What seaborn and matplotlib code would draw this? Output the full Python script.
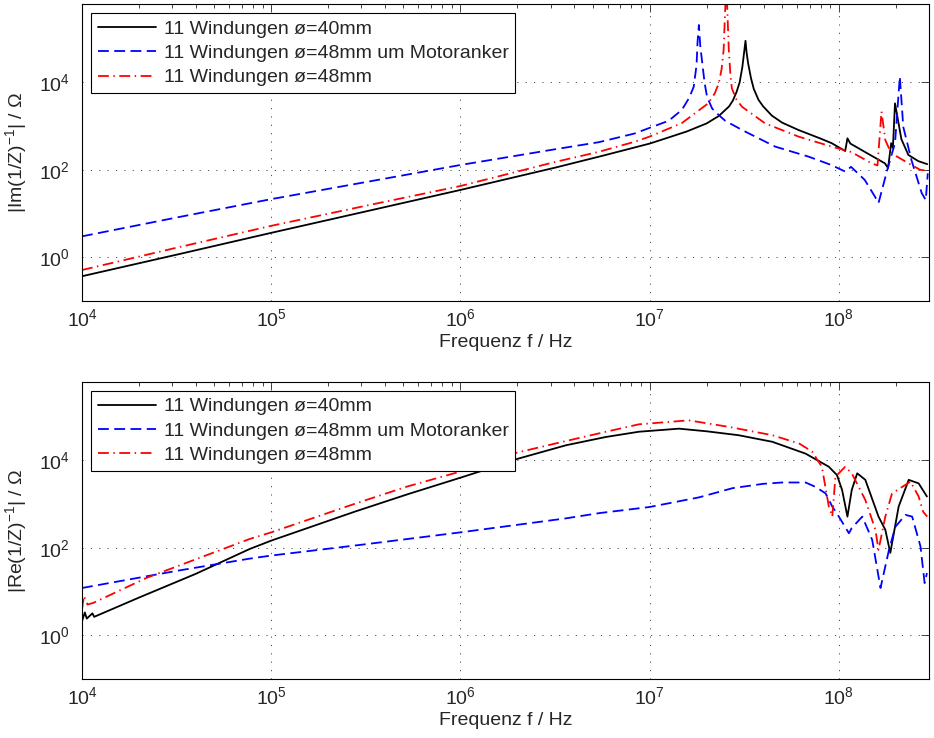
import matplotlib
matplotlib.use("Agg")
import matplotlib.pyplot as plt
import seaborn as sns
from matplotlib.ticker import NullLocator, NullFormatter

sns.set_style("white")
plt.rcParams['font.family'] = ['Liberation Sans', 'DejaVu Sans']
plt.rcParams['mathtext.fontset'] = 'custom'
plt.rcParams['mathtext.rm'] = 'Liberation Sans'
plt.rcParams['mathtext.it'] = 'Liberation Sans:italic'
plt.rcParams['font.size'] = 14

labels = ['11 Windungen ø=40mm',
          '11 Windungen ø=48mm um Motoranker',
          '11 Windungen ø=48mm']

# |Im(1/Z)^-1| -- 40 mm
f_im_40 = [1e4, 3.16e4, 1e5, 3.16e5, 1e6, 3.16e6, 5.62e6, 8.32e6, 1e7, 1.26e7, 1.58e7, 2.0e7,
           2.32e7, 2.63e7, 2.75e7, 2.88e7, 2.99e7, 3.09e7, 3.16e7, 3.21e7, 3.25e7, 3.31e7,
           3.43e7, 3.55e7, 3.76e7, 3.98e7, 4.42e7, 5.01e7, 6.12e7, 7.94e7, 9.16e7, 1.08e8,
           1.11e8, 1.15e8, 1.41e8, 1.75e8, 1.82e8, 1.89e8, 1.93e8, 1.98e8, 2.14e8, 2.33e8,
           2.63e8, 2.93e8]
im_40 = [0.37, 1.15, 3.63, 11.2, 34.7, 112, 209, 324, 398, 550, 759, 1150,
         1700, 2820, 3800, 6030, 1e4, 2.24e4, 5.01e4, 8.9e4, 5.01e4, 2.82e4,
         1.26e4, 7080, 3980, 2820, 1740, 1200, 813, 525, 407, 269,
         525, 398, 240, 141, 110, 407, 316, 3310, 501, 219,
         158, 135]

# |Im(1/Z)^-1| -- 48 mm um Motoranker
f_im_48m = [1e4, 3.16e4, 1e5, 3.16e5, 1e6, 3.16e6, 5.37e6, 8.32e6, 1e7, 1.26e7, 1.48e7,
            1.62e7, 1.71e7, 1.77e7, 1.79e7, 1.82e7, 1.85e7, 1.89e7, 1.95e7, 2.01e7,
            2.14e7, 2.32e7, 2.51e7, 3.08e7, 4.61e7, 6.92e7, 9.12e7, 1.08e8, 1.16e8,
            1.37e8, 1.55e8, 1.62e8, 1.68e8, 1.82e8, 1.98e8, 2.10e8, 2.19e8, 2.42e8,
            2.74e8, 2.88e8, 2.95e8]
im_48m = [3.02, 8.13, 21.4, 52.5, 129, 295, 427, 676, 912, 1320, 2340,
          4470, 7940, 2.51e4, 7.94e4, 2.04e5, 7.08e4, 3.16e4, 1e4, 4680,
          2510, 1780, 1320, 813, 339, 200, 129, 91.2, 117,
          58.9, 24.5, 17.4, 31.6, 117, 407, 1.35e4, 955, 166,
          29.5, 20.4, 83.2]

# |Im(1/Z)^-1| -- 48 mm
f_im_48 = [1e4, 3.16e4, 1e5, 3.16e5, 1e6, 3.16e6, 5.37e6, 8.32e6, 1e7, 1.48e7, 2.04e7,
           2.21e7, 2.32e7, 2.40e7, 2.46e7, 2.54e7, 2.62e7, 2.67e7, 2.72e7, 2.88e7,
           3.08e7, 4.08e7, 6.12e7, 9.16e7, 1.16e8, 1.49e8, 1.60e8, 1.68e8, 1.76e8,
           1.89e8, 2.42e8, 2.69e8, 2.93e8]
im_48 = [0.513, 1.66, 5.25, 15.1, 42.7, 151, 257, 437, 575, 1170, 3310,
         5620, 9550, 2.0e4, 5.5e4, 2.0e6, 5.5e4, 1.58e4, 7240, 3980,
         2750, 1150, 575, 339, 257, 141, 126, 2140, 479,
         240, 129, 100, 95.5]

# |Re(1/Z)^-1| -- 40 mm
f_re_40 = [1e4, 1.035e4, 1.06e4, 1.135e4, 1.16e4, 2.0e4, 3.98e4, 7.69e4, 1e5, 2.75e5,
           5.25e5, 1e6, 1.42e6, 1.89e6, 2.51e6, 3.61e6, 5.87e6, 8.79e6, 1.43e7, 2.0e7,
           2.95e7, 4.45e7, 6.67e7, 8.85e7, 9.77e7, 1.04e8, 1.11e8, 1.17e8, 1.25e8,
           1.38e8, 1.62e8, 1.76e8, 1.87e8, 2.07e8, 2.34e8, 2.64e8, 2.92e8]
re_40 = [2.09, 3.31, 2.40, 3.16, 2.63, 7.24, 25.1, 93.3, 145, 661,
         1660, 3980, 6460, 1e4, 1.41e4, 2.19e4, 3.39e4, 4.47e4, 5.25e4, 4.57e4,
         3.72e4, 2.63e4, 1.41e4, 7080, 4570, 2090, 513, 2090, 5010,
         3550, 513, 257, 75.9, 871, 3550, 2950, 1480]

# |Re(1/Z)^-1| -- 48 mm um Motoranker
f_re_48m = [1e4, 3.16e4, 7.69e4, 1e5, 3.16e5, 1e6, 3.61e6, 5.42e6, 1e7, 1.82e7, 2.74e7,
            3.98e7, 5.01e7, 6.67e7, 7.53e7, 8.51e7, 9.23e7, 1e8, 1.13e8, 1.17e8, 1.33e8,
            1.50e8, 1.66e8, 1.84e8, 1.99e8, 2.25e8, 2.44e8, 2.70e8, 2.84e8, 2.92e8]
re_48m = [12.0, 29.5, 56.2, 66.1, 120, 224, 468, 617, 851, 1410, 2290,
          2880, 3090, 3090, 2450, 1740, 871, 513, 214, 282, 513,
          151, 12.0, 89.1, 302, 562, 513, 107, 15.5, 26.3]

# |Re(1/Z)^-1| -- 48 mm
f_re_48 = [1e4, 1.023e4, 1.07e4, 1.15e4, 2.19e4, 4.9e4, 7.69e4, 1e5, 2.75e5, 5.25e5,
           1e6, 1.89e6, 3.47e6, 5.89e6, 8.79e6, 1.61e7, 2.63e7, 4.45e7, 6.17e7, 7.21e7,
           8.13e7, 8.85e7, 9.23e7, 9.59e7, 1.08e8, 1.17e8, 1.38e8, 1.56e8, 1.62e8,
           1.76e8, 1.91e8, 2.39e8, 2.64e8, 2.79e8, 2.93e8]
re_48 = [3.89, 7.94, 5.01, 5.5, 20.4, 75.9, 158, 224, 1000, 2510,
         5500, 1.41e4, 2.63e4, 4.47e4, 6.61e4, 8.13e4, 5.75e4, 3.72e4, 2.4e4, 1.58e4,
         7080, 871, 513, 4170, 7080, 5010, 1230, 257, 89.1,
         513, 1740, 3240, 1480, 661, 513]

colors = ['black', 'blue', 'red']
styles = ['-', (0, (6, 3)), (0, (6, 2.5, 0.8, 2.5))]

fig = plt.figure(figsize=(9.34, 7.38), dpi=100)
ax1 = fig.add_axes([0.0878, 0.592, 0.907, 0.402])
ax2 = fig.add_axes([0.0878, 0.080, 0.907, 0.402])

panels = [
    (ax1, [(f_im_40, im_40), (f_im_48m, im_48m), (f_im_48, im_48)], r'|Im(1/Z)$^{-1}$| / Ω'),
    (ax2, [(f_re_40, re_40), (f_re_48m, re_48m), (f_re_48, re_48)], r'|Re(1/Z)$^{-1}$| / Ω'),
]

for ax, series, ylab in panels:
    for (f, v), lab, c, ls in zip(series, labels, colors, styles):
        sns.lineplot(x=f, y=v, ax=ax, color=c, linestyle=ls, lw=1.3,
                     label=lab, sort=False, estimator=None)
    ax.set_xscale('log')
    ax.set_yscale('log')
    ax.set_xlim(1e4, 3e8)
    ax.set_ylim(1e-1, 10 ** 5.78)
    ax.set_yticks([1, 1e2, 1e4])
    ax.yaxis.set_minor_locator(NullLocator())
    ax.xaxis.set_minor_formatter(NullFormatter())
    ax.tick_params(which='both', direction='in', top=True, right=True, width=0.6)
    ax.tick_params(which='major', length=6)
    ax.tick_params(which='minor', length=3)
    ax.tick_params(axis='y', pad=9)
    ax.tick_params(axis='x', pad=5)
    ax.grid(True, which='major', color='0.3', linestyle=(0, (1.2, 7.4)), lw=0.7)
    for s in ax.spines.values():
        s.set_linewidth(0.8)
        s.set_color('black')
    ax.set_xlabel('Frequenz f / Hz', labelpad=3)
    ax.set_ylabel(ylab, labelpad=7)
    leg = ax.legend(loc='upper left', fontsize=14, frameon=True, fancybox=False,
                    framealpha=1, edgecolor='black', borderaxespad=0.45,
                    borderpad=0.35, labelspacing=0.35, handlelength=3.0,
                    handletextpad=0.4)
    leg.get_frame().set_linewidth(0.8)

fig.savefig('out.png', dpi=100)
